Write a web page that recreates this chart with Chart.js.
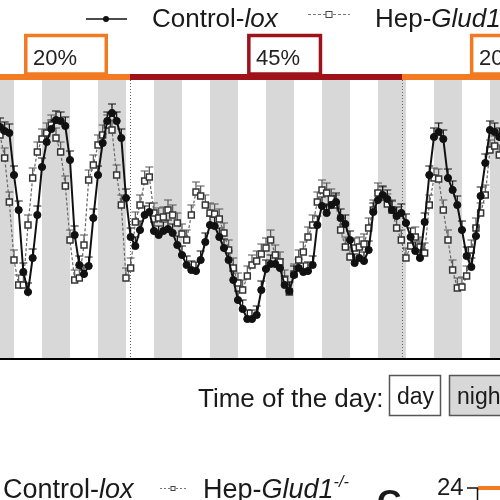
<!DOCTYPE html>
<html lang="en">
<head>
<meta charset="UTF-8">
<title>Control-lox vs Hep-Glud1 over day/night cycles</title>
<script src="https://cdn.jsdelivr.net/npm/chart.js@4"></script>
<style>
  html, body { margin: 0; padding: 0; background: #fff; }
  canvas { display: block; }
</style>
</head>
<body>
<canvas id="chart" width="500" height="500"></canvas>
<script>
// time in hours, 0 = start of the first full night in view
const hours = [-18, -16, -14, -12, -10, -8, -6, -4, -2, 0,
  2, 4, 6, 8, 10, 12, 14, 16, 18, 20,
  22, 24, 26, 28, 30, 32, 34, 36, 38, 40,
  42, 44, 46, 48, 50, 52, 54, 56, 58, 60,
  62, 64, 66, 68, 70, 72, 74, 76, 78, 80,
  82, 84, 86, 88, 90, 92, 94, 96, 98, 100,
  102, 104, 106, 108, 110, 112, 114, 116, 118, 120,
  122, 124, 126, 128, 130, 132, 134, 136, 138, 140,
  142, 144, 146, 148, 150, 152, 154, 156, 158, 160,
  162, 164, 166, 168, 170, 172, 174, 176, 178, 180,
  182, 184, 186, 188, 190, 192, 194, 196];

const controlLox = [23.1, 22.7, 22.5, 18.3, 14.8, 8.6, 6.6, 10.0, 14.3, 19.1,
  21.6, 22.9, 23.8, 23.7, 23.2, 19.8, 12.3, 9.3, 8.4, 9.2,
  14.0, 18.3, 21.5, 23.7, 24.5, 23.7, 22.0, 16.0, 12.1, 11.2,
  12.8, 14.3, 14.6, 12.7, 12.3, 12.7, 12.9, 12.5, 11.3, 10.3,
  9.3, 8.8, 8.7, 9.8, 11.6, 13.3, 13.2, 12.1, 11.0, 9.8,
  7.8, 5.8, 4.9, 3.9, 3.9, 4.3, 6.8, 8.9, 9.4, 9.4,
  9.0, 7.3, 6.7, 8.3, 9.0, 8.6, 8.7, 9.3, 13.3, 15.2,
  14.5, 15.3, 15.6, 14.0, 13.4, 11.8, 9.5, 10.0, 9.7, 10.8,
  14.6, 15.8, 16.3, 15.9, 14.8, 14.2, 14.5, 13.5, 12.1, 10.7,
  10.0, 13.6, 18.3, 22.1, 22.6, 21.9, 18.0, 16.8, 15.3, 12.8,
  10.2, 9.1, 12.2, 16.2, 19.5, 22.8, 22.6, 22.1];

const hepGlud1 = [22.3, 20.0, 15.6, 9.8, 7.3, 7.3, 13.3, 18.0, 20.6, 21.9,
  22.5, 23.3, 22.0, 20.6, 17.2, 11.8, 7.8, 8.0, 11.3, 17.8,
  19.3, 21.3, 22.3, 23.3, 22.8, 18.3, 15.3, 8.0, 9.0, 13.6,
  15.3, 17.7, 18.1, 14.5, 14.0, 14.1, 14.8, 14.3, 13.5, 12.4,
  11.8, 14.3, 16.6, 16.2, 15.3, 14.5, 14.4, 13.9, 12.5, 10.8,
  9.0, 7.5, 6.8, 8.2, 9.3, 9.7, 10.4, 11.0, 11.8, 10.3,
  9.6, 7.8, 6.6, 8.4, 9.8, 10.6, 12.1, 13.3, 15.6, 16.8,
  16.5, 15.9, 15.3, 12.8, 11.1, 10.1, 11.0, 11.1, 11.4, 13.0,
  14.8, 16.5, 16.1, 15.4, 14.8, 13.0, 11.8, 10.0, 11.2, 12.1,
  11.1, 10.5, 15.3, 18.0, 17.9, 14.8, 11.8, 8.8, 7.0, 7.1,
  8.2, 10.8, 13.0, 14.5, 16.3, 20.8, 21.2, 20.3];

// SEM (drawn upward only)
const controlSem = 0.9;
const hepSem = 1.0;

// nights start every 24 h and last 12 h
const nightStarts = [-24, 0, 24, 48, 72, 96, 120, 144, 168, 192];
const nightLength = 12;

// O2 phases: boundaries in hours and their labels
const phaseEdges = [-18, 37.7, 154.3, 196.3];
const phaseLabels = ['20%', '45%', '20%'];

const ORANGE = '#f27a22';
const DARKRED = '#a0121a';
const FONT = '"Liberation Sans", Arial, sans-serif';

// draws a row of text pieces, some italic / superscript
function textRuns(ctx, x, y, size, runs) {
    runs.forEach(r => {
        const s = r.sup ? size * 0.6 : size;
        ctx.font = (r.italic ? 'italic ' : '') + s + 'px ' + FONT;
        ctx.fillText(r.t, x, r.sup ? y - size * 0.42 : y);
        x += ctx.measureText(r.t).width;
    });
}

const backdrop = {
    id: 'backdrop',
    beforeDatasetsDraw(chart) {
        const { ctx, chartArea: a, scales: { x, y } } = chart;
        ctx.save();
        /* night stripes */
        ctx.fillStyle = '#d8d8d8';
        nightStarts.forEach(s => {
            const x0 = Math.max(x.getPixelForValue(s), a.left);
            const x1 = Math.min(x.getPixelForValue(s + nightLength), a.right);
            if (x1 > x0) ctx.fillRect(x0, a.top, x1 - x0, a.bottom - a.top);
        });
        /* dotted phase change lines */
        ctx.strokeStyle = '#666';
        ctx.lineWidth = 1;
        ctx.setLineDash([1, 2]);
        phaseEdges.slice(1, -1).forEach(e => {
            const px = Math.round(x.getPixelForValue(e)) + 0.5;
            ctx.beginPath();
            ctx.moveTo(px, a.top);
            ctx.lineTo(px, a.bottom);
            ctx.stroke();
        });
        ctx.setLineDash([]);
        /* error bars */
        const bars = [[hepGlud1, hepSem, '#555'], [controlLox, controlSem, '#111']];
        bars.forEach(([vals, sem, col]) => {
            ctx.strokeStyle = col;
            ctx.lineWidth = 1.2;
            vals.forEach((v, i) => {
                const px = x.getPixelForValue(hours[i]);
                const p0 = y.getPixelForValue(v);
                const p1 = y.getPixelForValue(v + sem);
                ctx.beginPath();
                ctx.moveTo(px, p0);
                ctx.lineTo(px, p1);
                ctx.moveTo(px - 4, p1);
                ctx.lineTo(px + 4, p1);
                ctx.stroke();
            });
        });
        ctx.restore();
    },
    afterDraw(chart) {
        const { ctx, chartArea: a, scales: { x } } = chart;
        ctx.save();
        /* x axis line */
        ctx.fillStyle = '#000';
        ctx.fillRect(a.left, a.bottom, a.right - a.left, 2);

        /* phase bar + label boxes */
        const boxes = [[-7.7, 28.3], [87.9, 120.1], [183.4, 230]];
        phaseLabels.forEach((lab, i) => {
            const col = i === 1 ? DARKRED : ORANGE;
            const x0 = Math.max(x.getPixelForValue(phaseEdges[i]), a.left);
            const x1 = Math.min(x.getPixelForValue(phaseEdges[i + 1]), a.right);
            ctx.fillStyle = col;
            ctx.fillRect(x0, a.top - 6, x1 - x0, 6);
            const b0 = x.getPixelForValue(boxes[i][0]);
            const b1 = x.getPixelForValue(boxes[i][1]);
            ctx.fillStyle = '#fff';
            ctx.fillRect(b0, 36, b1 - b0, a.top - 42);
            ctx.strokeStyle = col;
            ctx.lineWidth = 3.5;
            ctx.strokeRect(b0 + 1.75, 35.5, b1 - b0 - 3.5, a.top - 6 - 35.5);
            ctx.fillStyle = '#222';
            ctx.font = '22px ' + FONT;
            ctx.fillText(lab, b0 + 9, 65);
        });

        /* top legend */
        ctx.strokeStyle = '#111';
        ctx.lineWidth = 1.5;
        ctx.beginPath();
        ctx.moveTo(86, 19);
        ctx.lineTo(127, 19);
        ctx.stroke();
        ctx.fillStyle = '#111';
        ctx.beginPath();
        ctx.arc(106, 19, 3, 0, Math.PI * 2);
        ctx.fill();
        ctx.strokeStyle = '#777';
        ctx.lineWidth = 1;
        ctx.setLineDash([3, 2]);
        ctx.beginPath();
        ctx.moveTo(308, 14.5);
        ctx.lineTo(350, 14.5);
        ctx.stroke();
        ctx.setLineDash([]);
        ctx.fillStyle = '#fff';
        ctx.fillRect(326, 11.5, 6, 6);
        ctx.strokeStyle = '#444';
        ctx.strokeRect(326, 11.5, 6, 6);
        ctx.fillStyle = '#1a1a1a';
        textRuns(ctx, 152, 27, 26, [{ t: 'Control-' }, { t: 'lox', italic: true }]);
        textRuns(ctx, 375, 27, 26, [{ t: 'Hep-' }, { t: 'Glud1', italic: true }, { t: '-/-', italic: true, sup: true }]);

        /* time of the day key */
        ctx.font = '26px ' + FONT;
        ctx.fillText('Time of the day:', 198, 407);
        ctx.lineWidth = 1.5;
        ctx.strokeStyle = '#555';
        ctx.strokeRect(389.5, 375.5, 51, 40);
        ctx.fillStyle = '#d8d8d8';
        ctx.fillRect(449.5, 375.5, 70, 40);
        ctx.strokeRect(449.5, 375.5, 70, 40);
        ctx.fillStyle = '#1a1a1a';
        ctx.font = '23px ' + FONT;
        ctx.fillText('day', 397, 404);
        ctx.fillText('night', 457, 404);

        /* start of the next panel */
        textRuns(ctx, 3, 498, 27, [{ t: 'Control-' }, { t: 'lox', italic: true }]);
        ctx.strokeStyle = '#777';
        ctx.lineWidth = 1;
        ctx.setLineDash([2, 2]);
        ctx.beginPath();
        ctx.moveTo(160, 488.5);
        ctx.lineTo(187, 488.5);
        ctx.stroke();
        ctx.setLineDash([]);
        ctx.fillStyle = '#fff';
        ctx.fillRect(171, 486.5, 4, 4);
        ctx.strokeStyle = '#444';
        ctx.strokeRect(171, 486.5, 4, 4);
        ctx.fillStyle = '#1a1a1a';
        textRuns(ctx, 203, 498, 27, [{ t: 'Hep-' }, { t: 'Glud1', italic: true }, { t: '-/-', italic: true, sup: true }]);
        ctx.font = 'bold 34px ' + FONT;
        ctx.fillText('C', 377, 513);
        ctx.font = '24px ' + FONT;
        ctx.fillText('24', 437, 495);
        ctx.fillStyle = ORANGE;
        ctx.fillRect(478, 486, 22, 4);
        ctx.strokeStyle = '#111';
        ctx.lineWidth = 1.5;
        ctx.beginPath();
        ctx.moveTo(467, 488);
        ctx.lineTo(478, 488);
        ctx.moveTo(477.5, 488);
        ctx.lineTo(477.5, 500);
        ctx.stroke();
        ctx.restore();
    }
};

new Chart(document.getElementById('chart'), {
    type: 'line',
    data: {
        datasets: [{
            label: 'Control-lox',
            data: hours.map((h, i) => ({ x: h, y: controlLox[i] })),
            borderColor: '#111',
            borderWidth: 2,
            pointStyle: 'circle',
            pointRadius: 3.6,
            pointBackgroundColor: '#111',
            pointBorderColor: '#111',
            pointBorderWidth: 1,
            order: 0
        }, {
            label: 'Hep-Glud1-/-',
            data: hours.map((h, i) => ({ x: h, y: hepGlud1[i] })),
            borderColor: '#666',
            borderWidth: 1.2,
            borderDash: [3, 2],
            pointStyle: 'rect',
            pointRadius: 4.2,
            pointBackgroundColor: '#fff',
            pointBorderColor: '#333',
            pointBorderWidth: 1.5,
            order: 1
        }]
    },
    options: {
        responsive: false,
        animation: false,
        devicePixelRatio: 1,
        layout: { autoPadding: false, padding: { top: 80, bottom: 142, left: 0, right: 0 } },
        plugins: { legend: { display: false }, tooltip: { enabled: false } },
        scales: {
            x: { type: 'linear', min: -18, max: 196.3, display: false },
            y: { min: 0, max: 27.8, display: false }
        }
    },
    plugins: [backdrop]
});
</script>
</body>
</html>
